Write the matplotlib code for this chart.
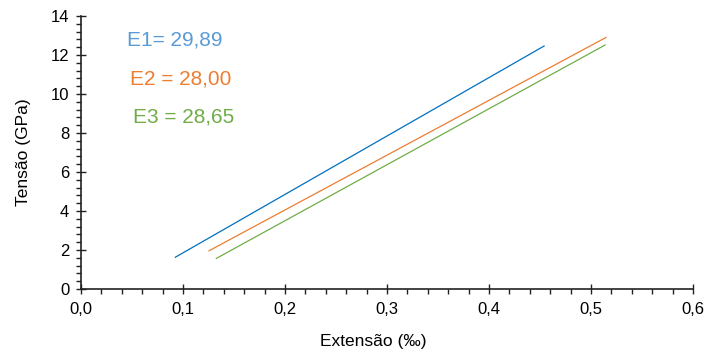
import matplotlib
matplotlib.use("Agg")
import matplotlib.pyplot as plt
from matplotlib.ticker import MultipleLocator

# ---- data ----
e1_x = [0.0925, 0.454]
e1_y = [1.63, 12.46]
e2_x = [0.1255, 0.5147]
e2_y = [1.96, 12.90]
e3_x = [0.1327, 0.5137]
e3_y = [1.57, 12.51]

labels = ["E1= 29,89", "E2 = 28,00", "E3 = 28,65"]
label_pos_x = [0.045, 0.048, 0.051]
label_pos_y = [12.77, 10.77, 8.82]

x_ticks = [0.0, 0.1, 0.2, 0.3, 0.4, 0.5, 0.6]
x_tick_labels = ["0,0", "0,1", "0,2", "0,3", "0,4", "0,5", "0,6"]
y_ticks = [0, 2, 4, 6, 8, 10, 12, 14]
y_tick_labels = ["0", "2", "4", "6", "8", "10", "12", "14"]

line_colors = ["#0070C0", "#ED7D31", "#70AD47"]
text_colors = ["#5B9BD5", "#ED7D31", "#70AD47"]

fam = ["Liberation Sans", "DejaVu Sans"]

fig = plt.figure(figsize=(7.05, 3.54), dpi=100)
ax = fig.add_axes([0.1149, 0.1836, 0.983 - 0.1149, 0.9548 - 0.1836])

for xs, ys, c in zip([e1_x, e2_x, e3_x], [e1_y, e2_y, e3_y], line_colors):
    ax.plot(xs, ys, color=c, lw=0.9)

for t, x, y, c in zip(labels, label_pos_x, label_pos_y, text_colors):
    ax.text(x, y, t, color=c, fontsize=15, family=fam, va="center", ha="left")

ax.set_xlim(0, 0.6)
ax.set_ylim(0, 14)
ax.set_xticks(x_ticks)
ax.set_xticklabels(x_tick_labels, family=fam, fontsize=12)
ax.set_yticks(y_ticks)
ax.set_yticklabels(y_tick_labels, family=fam, fontsize=12)
ax.xaxis.set_minor_locator(MultipleLocator(0.02))
ax.yaxis.set_minor_locator(MultipleLocator(0.4))

ax.tick_params(which="major", direction="inout", length=7, width=1, color="#222222")
ax.tick_params(axis="x", which="major", pad=6)
ax.tick_params(axis="y", which="major", pad=5)
ax.tick_params(which="minor", direction="out", length=3.5, width=1, color="#222222")

for s in ["top", "right"]:
    ax.spines[s].set_visible(False)
for s in ["left", "bottom"]:
    ax.spines[s].set_linewidth(1.2)
    ax.spines[s].set_color("#222222")

ax.set_xlabel("Extensão (‰)", family=fam, fontsize=12.5)
ax.xaxis.set_label_coords(0.477, -0.165)
ax.xaxis.label.set_va("top")
ax.set_ylabel("Tensão (GPa)", family=fam, fontsize=12.5, labelpad=14)

fig.savefig("out.png", dpi=100)
